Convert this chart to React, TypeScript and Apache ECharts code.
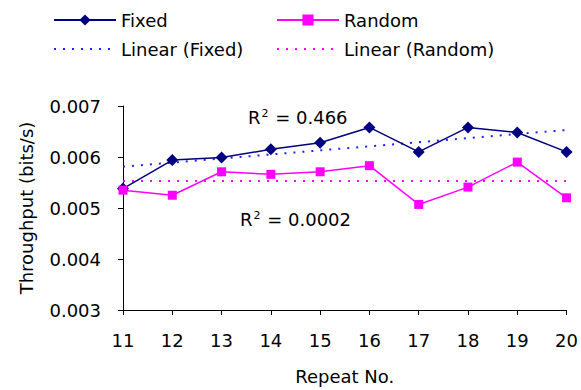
import React, { useEffect, useRef } from "react";
import * as echarts from "echarts";

const categories = ["11", "12", "13", "14", "15", "16", "17", "18", "19", "20"];
const fixedValues = [0.00538, 0.00594, 0.00599, 0.00615, 0.00628, 0.00658, 0.0061, 0.00658, 0.00648, 0.0061];
const randomValues = [0.00535, 0.00525, 0.00571, 0.00566, 0.00571, 0.00583, 0.00507, 0.00541, 0.0059, 0.0052];
const trendEnds = ["11", "20"];
const fixedTrend = [0.00581, 0.00653];
const randomTrend = [0.00553, 0.00553];
const yTicks = { min: 0.003, max: 0.007, step: 0.001 };
const r2Fixed = "0.466";
const r2Random = "0.0002";

const FONT = "DejaVu Sans";

export default function App() {
  const ref = useRef<HTMLDivElement>(null);
  useEffect(() => {
    document.body.style.margin = "0";
    if (!ref.current) return;
    const chart = echarts.init(ref.current, null, { renderer: "svg" });
    const legendText = { fontFamily: FONT, fontSize: 18, color: "#000" };
    const r2Rich = {
      sup: { fontFamily: FONT, fontSize: 11, color: "#000", verticalAlign: "top", padding: [0, 1, 8, 1] },
      t: { fontFamily: FONT, fontSize: 18, color: "#000" },
    };
    const hideSym = { opacity: 0 };
    chart.setOption({
      animation: false,
      backgroundColor: "#fff",
      textStyle: { fontFamily: FONT },
      grid: { left: 123, right: 12, top: 106, bottom: 80 },
      legend: [
        {
          orient: "vertical",
          left: 53,
          top: 11,
          padding: 0,
          itemWidth: 62,
          itemHeight: 14,
          itemGap: 11,
          textStyle: legendText,
          data: ["Fixed", { name: "Linear (Fixed)", itemStyle: hideSym }],
        },
        {
          orient: "vertical",
          left: 276,
          top: 11,
          padding: 0,
          itemWidth: 62,
          itemHeight: 14,
          itemGap: 11,
          textStyle: legendText,
          data: ["Random", { name: "Linear (Random)", itemStyle: hideSym }],
        },
      ],
      xAxis: {
        type: "category",
        data: categories,
        boundaryGap: false,
        name: "Repeat No.",
        nameLocation: "middle",
        nameGap: 57,
        nameTextStyle: { fontFamily: FONT, fontSize: 18, color: "#000" },
        axisLine: { lineStyle: { color: "#000", width: 1 } },
        axisTick: { show: true, length: 5, alignWithLabel: true, lineStyle: { color: "#000" } },
        axisLabel: { fontFamily: FONT, fontSize: 18, color: "#000", margin: 21 },
        splitLine: { show: false },
      },
      yAxis: {
        type: "value",
        min: yTicks.min,
        max: yTicks.max,
        interval: yTicks.step,
        name: "Throughput (bits/s)",
        nameLocation: "middle",
        nameGap: 88,
        nameTextStyle: { fontFamily: FONT, fontSize: 18, color: "#000" },
        axisLine: { show: true, lineStyle: { color: "#000", width: 1 } },
        axisTick: { show: true, length: 5, lineStyle: { color: "#000" } },
        axisLabel: {
          fontFamily: FONT,
          fontSize: 18,
          color: "#000",
          margin: 22,
          formatter: (v: number) => v.toFixed(3),
        },
        splitLine: { show: false },
      },
      series: [
        {
          name: "Fixed",
          type: "line",
          data: fixedValues,
          color: "#000080",
          symbol: "diamond",
          symbolSize: 12,
          lineStyle: { width: 1.5, color: "#000080" },
          itemStyle: { color: "#000080" },
          z: 5,
        },
        {
          name: "Random",
          type: "line",
          data: randomValues,
          color: "#ff00ff",
          symbol: "rect",
          symbolSize: 9,
          lineStyle: { width: 1.5, color: "#ff00ff" },
          itemStyle: { color: "#ff00ff" },
          z: 5,
        },
        {
          name: "Linear (Fixed)",
          type: "line",
          data: trendEnds.map((c, i) => [c, fixedTrend[i]]),
          color: "#2020ff",
          symbol: "none",
          lineStyle: { width: 2, color: "#2020ff", type: [2, 7] },
          z: 3,
        },
        {
          name: "Linear (Random)",
          type: "line",
          data: trendEnds.map((c, i) => [c, randomTrend[i]]),
          color: "#ff00ff",
          symbol: "none",
          lineStyle: { width: 2, color: "#ff00ff", type: [2, 7] },
          z: 3,
        },
      ],
      graphic: [
        {
          type: "text",
          left: 248,
          top: 108,
          style: { text: "{t|R}{sup|2}{t| = " + r2Fixed + "}", rich: r2Rich },
        },
        {
          type: "text",
          left: 240,
          top: 210,
          style: { text: "{t|R}{sup|2}{t| = " + r2Random + "}", rich: r2Rich },
        },
      ],
    });
    return () => chart.dispose();
  }, []);
  return <div ref={ref} style={{ width: 581, height: 390 }} />;
}
